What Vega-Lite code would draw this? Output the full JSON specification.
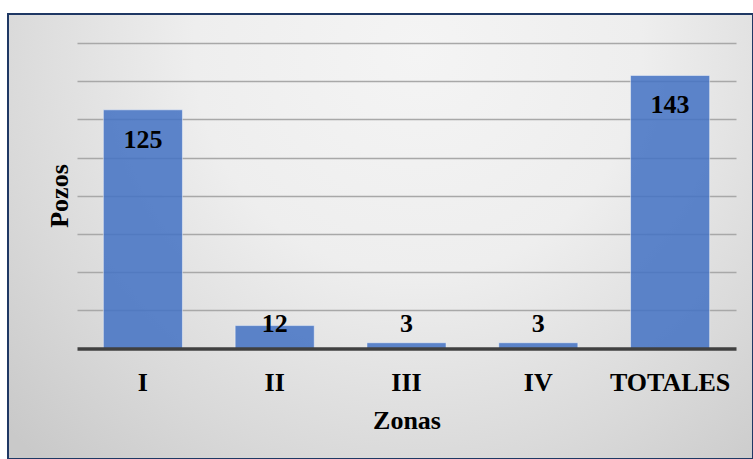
{
  "$schema": "https://vega.github.io/schema/vega-lite/v6.json",
  "width": 745,
  "height": 445,
  "autosize": {"type": "none"},
  "padding": {"left": 8, "top": 14, "right": 0, "bottom": 0},
  "background": "white",
  "view": {
    "fill": {
      "gradient": "radial",
      "x1": 0.55, "y1": 0.25, "r1": 0,
      "x2": 0.55, "y2": 0.25, "r2": 0.75,
      "stops": [
        {"offset": 0, "color": "#f4f4f4"},
        {"offset": 0.4, "color": "#eeeeee"},
        {"offset": 0.75, "color": "#d9d9d9"},
        {"offset": 1, "color": "#c9c9c9"}
      ]
    },
    "stroke": "#1f3864",
    "strokeWidth": 2
  },
  "config": {
    "font": "Liberation Serif"
  },
  "data": {
    "values": [
      {"zona": "I", "pozos": 125},
      {"zona": "II", "pozos": 12},
      {"zona": "III", "pozos": 3},
      {"zona": "IV", "pozos": 3},
      {"zona": "TOTALES", "pozos": 143}
    ]
  },
  "encoding": {
    "x": {
      "field": "zona",
      "type": "nominal",
      "sort": null,
      "title": "Zonas",
      "scale": {"range": [69, 728], "paddingInner": 0.4, "paddingOuter": 0.2},
      "axis": {
        "offset": -110.5,
        "zindex": 1,
        "labelAngle": 0,
        "labelFont": "Liberation Serif",
        "labelFontWeight": "bold",
        "labelFontSize": 26,
        "labelColor": "#000000",
        "labelBaseline": "alphabetic",
        "labelPadding": 41.5,
        "ticks": false,
        "tickSize": 0,
        "domainColor": "#404040",
        "domainWidth": 3.5,
        "grid": false,
        "titleFont": "Liberation Serif",
        "titleFontWeight": "bold",
        "titleFontSize": 26,
        "titleColor": "#000000",
        "titleBaseline": "alphabetic",
        "titleY": 79.8
      }
    },
    "y": {
      "field": "pozos",
      "type": "quantitative",
      "title": "Pozos",
      "scale": {"domain": [0, 160], "range": [334.5, 29], "nice": false, "zero": true},
      "axis": {
        "values": [20, 40, 60, 80, 100, 120, 140, 160],
        "labels": false,
        "ticks": false,
        "domain": false,
        "grid": true,
        "gridColor": "#a8a8a8",
        "gridWidth": 1.5,
        "titleFont": "Liberation Serif",
        "titleFontWeight": "bold",
        "titleFontSize": 26,
        "titleColor": "#000000",
        "titleAngle": -90,
        "titleAlign": "center",
        "titleBaseline": "alphabetic",
        "titleX": 59.3,
        "titleY": 181.5
      }
    }
  },
  "layer": [
    {
      "mark": {
        "type": "bar",
        "fill": "#4472c4",
        "fillOpacity": 0.86,
        "stroke": "#ffffff",
        "strokeOpacity": 0.45,
        "strokeWidth": 1
      }
    },
    {
      "transform": [{"filter": "datum.pozos >= 20"}],
      "mark": {
        "type": "text",
        "font": "Liberation Serif",
        "fontWeight": "bold",
        "fontSize": 26,
        "color": "#000000",
        "baseline": "alphabetic",
        "dy": 38
      },
      "encoding": {
        "text": {"field": "pozos", "type": "quantitative"}
      }
    },
    {
      "transform": [{"filter": "datum.pozos < 20"}],
      "mark": {
        "type": "text",
        "font": "Liberation Serif",
        "fontWeight": "bold",
        "fontSize": 26,
        "color": "#000000",
        "baseline": "alphabetic",
        "dy": -17
      },
      "encoding": {
        "y": {"datum": 0, "type": "quantitative", "title": "Pozos"},
        "text": {"field": "pozos", "type": "quantitative"}
      }
    }
  ]
}
